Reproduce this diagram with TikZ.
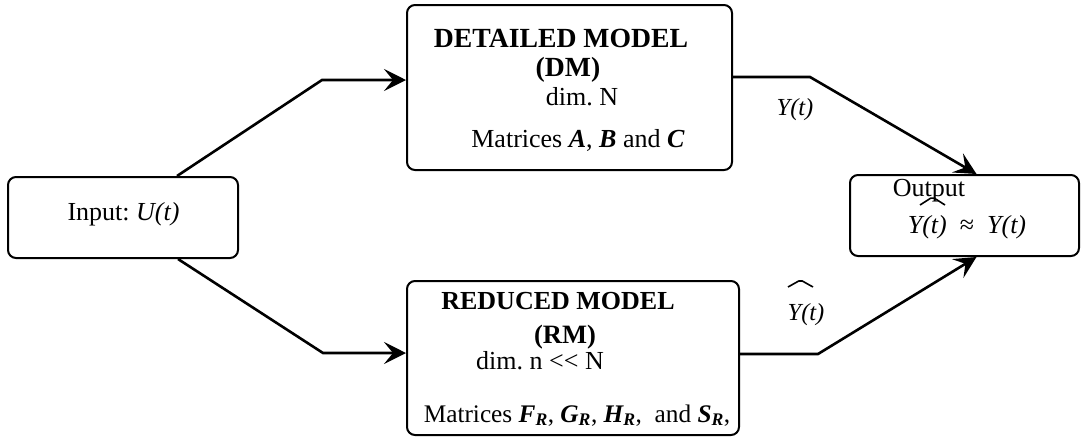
\documentclass[tikz,border=0pt]{standalone}
\usepackage{fontspec}
\setmainfont{Liberation Serif}
\usetikzlibrary{arrows.meta}
\frenchspacing
\tikzset{
  box/.style={draw, line width=2pt, rounded corners=8pt, inner sep=0pt},
  txt/.style={anchor=base, inner sep=0pt, font=\fontsize{26}{30}\selectfont},
  big/.style={anchor=base, inner sep=0pt, font=\fontsize{27.7}{32}\selectfont\bfseries},
  lbl/.style={anchor=base, inner sep=0pt, font=\fontsize{24.5}{28}\selectfont\itshape},
  arr/.style={line width=2.6pt, -{Stealth[length=22pt,width=22pt,inset=9pt]}},
  hatline/.style={line width=1.6pt, line join=round, rounded corners=2pt}
}
\newcommand{\bim}[1]{\textbf{\textit{#1}}}
\begin{document}
\begin{tikzpicture}[x=1pt,y=-1pt]
\useasboundingbox (0,0) rectangle (1081,440);
% boxes
\node[box, minimum width=230pt, minimum height=81pt] (inp) at (123,217.5) {};
\node[box, minimum width=325pt, minimum height=165pt] (dm) at (569.5,87.5) {};
\node[box, minimum width=332pt, minimum height=154pt] (rm) at (573,358) {};
\node[box, minimum width=229pt, minimum height=81pt] (out) at (964.5,215.5) {};
% texts
\node[txt] (tin) at (123.5,220) {Input: \textit{U(t)}};
\node[big] (d1) at (561,47) {DETAILED MODEL};
\node[big] (d2) at (568,76) {(DM)};
\node[txt] (d3) at (582,105) {dim. N};
\node[txt] (d4) at (578,147) {Matrices \bim{A}, \bim{B} and \bim{C}};
\node[txt, font=\fontsize{26}{30}\selectfont\bfseries] (r1) at (558,309) {REDUCED MODEL};
\node[txt, font=\fontsize{26.5}{30}\selectfont\bfseries] (r2) at (565,343) {(RM)};
\node[txt] (r3) at (540,369) {dim. n {<}{<} N};
\node[txt, font=\fontsize{25.3}{30}\selectfont] (r4) at (577,422) {Matrices \bim{F\textsubscript{R}}, \bim{G\textsubscript{R}}, \bim{H\textsubscript{R}}, \ and \bim{S\textsubscript{R}},};
\node[txt] (o1) at (929,196) {Output};
\node[txt] (o2) at (967,233) {\textit{Y(t)} \ ≈ \ \textit{Y(t)}};
\node[lbl] (ly) at (795,115) {Y(t)};
\node[lbl] (lyh) at (806,320) {Y(t)};
% hats
\draw[hatline] (920,205) -- (932.5,197) -- (945,205);
\draw[hatline] (788,287) -- (800.5,280) -- (813,287);
% connectors
\draw[arr] ([xshift=54pt]inp.north) -- (322,80) -- ([yshift=7.5pt]dm.west);
\draw[arr] ([xshift=55pt]inp.south) -- (323,353) -- ([yshift=5pt]rm.west);
\draw[arr] ([yshift=10.5pt]dm.east) -- (810,77) -- ([xshift=12pt]out.north);
\draw[arr] ([yshift=4pt]rm.east) -- (818,354) -- ([xshift=12pt]out.south);
\end{tikzpicture}
\end{document}
